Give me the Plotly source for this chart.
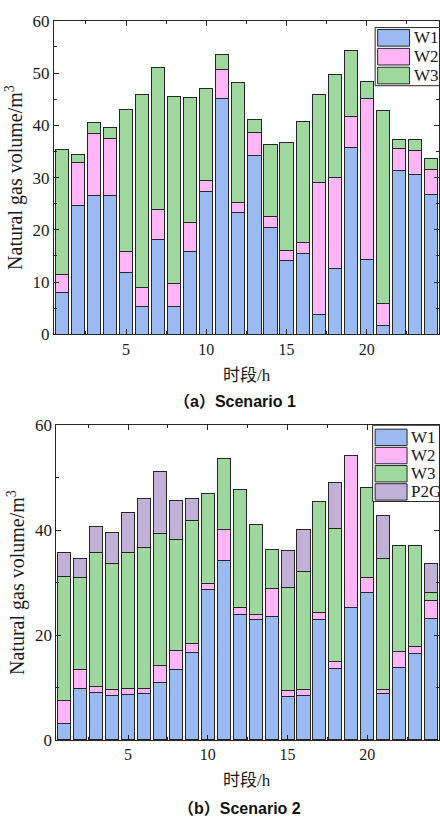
import plotly.graph_objects as go

hours = list(range(1, 25))

# Scenario 1 (stacked segment values)
s1_w1 = [8.0, 24.7, 26.6, 26.5, 11.9, 5.3, 18.2, 5.4, 15.9, 27.4, 45.2, 23.4,
         34.2, 20.5, 14.1, 15.5, 3.9, 12.6, 35.7, 14.3, 1.7, 31.4, 30.5, 26.8]
s1_w2 = [3.5, 8.2, 11.9, 11.0, 4.0, 3.7, 5.6, 4.4, 5.5, 2.0, 5.5, 1.9,
         4.4, 2.0, 2.0, 2.0, 25.2, 17.4, 5.9, 30.9, 4.2, 4.1, 4.7, 4.7]
s1_w3 = [23.9, 1.6, 2.0, 2.1, 27.2, 36.9, 27.2, 35.7, 23.9, 17.6, 2.9, 22.8,
         2.5, 13.9, 20.7, 23.3, 16.7, 19.7, 12.7, 3.2, 37.0, 1.8, 2.1, 2.1]

# Scenario 2 (stacked segment values)
s2_w1 = [3.2, 9.8, 9.1, 8.4, 8.6, 8.8, 11.0, 13.4, 16.7, 28.6, 34.3, 24.0,
         22.9, 23.6, 8.3, 8.5, 22.9, 13.7, 25.2, 28.1, 8.8, 13.9, 16.5, 23.2]
s2_w2 = [4.4, 3.6, 1.1, 1.2, 1.15, 1.1, 3.2, 3.7, 1.6, 1.3, 5.8, 1.3,
         1.1, 5.2, 1.1, 1.1, 1.4, 1.3, 29.0, 2.9, 0.8, 2.9, 1.3, 3.3]
s2_w3 = [23.6, 17.5, 25.5, 24.0, 25.95, 26.8, 25.2, 21.2, 23.5, 17.1, 13.5, 22.5,
         17.1, 7.5, 19.7, 22.5, 21.1, 25.3, None, 17.2, 25.0, 20.3, 19.2, 1.7]
s2_p2g = [4.5, 3.7, 5.0, 6.0, 7.6, 9.3, 11.8, 7.4, 4.2, None, None, None,
          None, None, 7.1, 8.0, None, 8.8, None, None, 8.1, None, None, 5.4]

series_names = ["W1", "W2", "W3", "P2G"]
colors = {"W1": "#9bbaf1", "W2": "#ffb5f6", "W3": "#9fd89f", "P2G": "#c2b1d6"}

W, H = 440, 832
serif = "Liberation Serif, Times New Roman, serif"
cjk = "Liberation Serif, Noto Sans CJK SC, serif"
bold_sans = "Liberation Sans, Noto Sans CJK SC, Arial"
axcol = "#262626"
txtcol = "#1a1a1a"

fig = go.Figure()
outline = dict(color=axcol, width=1)

for name, vals in zip(series_names[:3], [s1_w1, s1_w2, s1_w3]):
    fig.add_trace(go.Bar(x=hours, y=vals, name=name, width=0.82, showlegend=False,
                         marker=dict(color=colors[name], line=outline),
                         xaxis="x", yaxis="y"))
for name, vals in zip(series_names, [s2_w1, s2_w2, s2_w3, s2_p2g]):
    fig.add_trace(go.Bar(x=hours, y=vals, name=name, width=0.82, showlegend=False,
                         marker=dict(color=colors[name], line=outline),
                         xaxis="x2", yaxis="y2"))

common_x = dict(range=[0.5, 24.5], tick0=0, dtick=5, ticks="inside", ticklen=5,
                tickcolor=axcol, showline=True, linecolor=axcol, linewidth=1,
                mirror="ticks", showgrid=False, zeroline=False,
                tickfont=dict(family=serif, size=16, color=txtcol),
                minor=dict(tick0=0, dtick=2.5, ticks="inside", ticklen=3, tickcolor=axcol))
common_y = dict(range=[0, 60], ticks="inside", ticklen=5, tickcolor=axcol,
                showline=True, linecolor=axcol, linewidth=1, mirror="ticks",
                showgrid=False, zeroline=False,
                tickfont=dict(family=serif, size=17, color=txtcol),
                title=dict(text="Natural gas volume/m<sup>3</sup>",
                           font=dict(family=serif, size=20, color=txtcol), standoff=4))

# ---- custom legends (shapes + text), matching the reference look ----
shapes = []
annotations = []


def add_legend(names, box, sw_x, row_top, pitch, sw_h, text_x):
    x0, y0, x1, y1 = box
    shapes.append(dict(type="rect", xref="paper", yref="paper",
                       x0=x0 / W, x1=x1 / W, y0=1 - y1 / H, y1=1 - y0 / H,
                       fillcolor="white", line=dict(color=axcol, width=1), layer="above"))
    for i, nm in enumerate(names):
        t = row_top + i * pitch
        shapes.append(dict(type="rect", xref="paper", yref="paper",
                           x0=sw_x[0] / W, x1=sw_x[1] / W,
                           y0=1 - (t + sw_h) / H, y1=1 - t / H,
                           fillcolor=colors[nm], line=dict(color=axcol, width=1), layer="above"))
        annotations.append(dict(text=nm, xref="paper", yref="paper",
                                x=text_x / W, y=1 - (t + sw_h / 2) / H,
                                xanchor="left", yanchor="middle", showarrow=False,
                                font=dict(family=serif, size=17, color=txtcol)))


add_legend(series_names[:3], (376, 19, 440.5, 78.5), (378.5, 410.5), 21, 19.3, 17, 413)
add_legend(series_names, (373.5, 426, 440.5, 504), (376, 408), 430, 18.6, 16.8, 410)

annotations += [
    dict(text="时段/h", x=248 / W, y=1 - 375 / H, xref="paper", yref="paper",
         xanchor="center", yanchor="middle", showarrow=False,
         font=dict(family=cjk, size=17, color=txtcol)),
    dict(text="时段/h", x=248 / W, y=1 - 790 / H, xref="paper", yref="paper",
         xanchor="center", yanchor="middle", showarrow=False,
         font=dict(family=cjk, size=17, color=txtcol)),
    dict(text="<b>（a）Scenario 1</b>", x=236 / W, y=1 - 402 / H, xref="paper", yref="paper",
         xanchor="center", yanchor="middle", showarrow=False,
         font=dict(family=bold_sans, size=16, color="#111")),
    dict(text="<b>（b）Scenario 2</b>", x=240 / W, y=1 - 818 / H, xref="paper", yref="paper",
         xanchor="center", yanchor="middle", showarrow=False,
         font=dict(family=bold_sans, size=16, color="#111")),
]

fig.update_layout(
    width=W, height=H, margin=dict(l=0, r=0, t=0, b=0),
    paper_bgcolor="white", plot_bgcolor="white",
    barmode="stack", showlegend=False,
    xaxis=dict(common_x, domain=[54 / W, 1.0], anchor="y"),
    yaxis=dict(common_y, domain=[1 - 333 / H, 1 - 12 / H], anchor="x",
               dtick=10, minor=dict(dtick=5, ticks="inside", ticklen=3, tickcolor=axcol)),
    xaxis2=dict(common_x, domain=[56.5 / W, 1.0], anchor="y2"),
    yaxis2=dict(common_y, domain=[1 - 748 / H, 1 - 426 / H], anchor="x2",
                dtick=20, minor=dict(dtick=10, ticks="inside", ticklen=3, tickcolor=axcol)),
    shapes=shapes,
    annotations=annotations,
)

fig.write_html("out.html")
